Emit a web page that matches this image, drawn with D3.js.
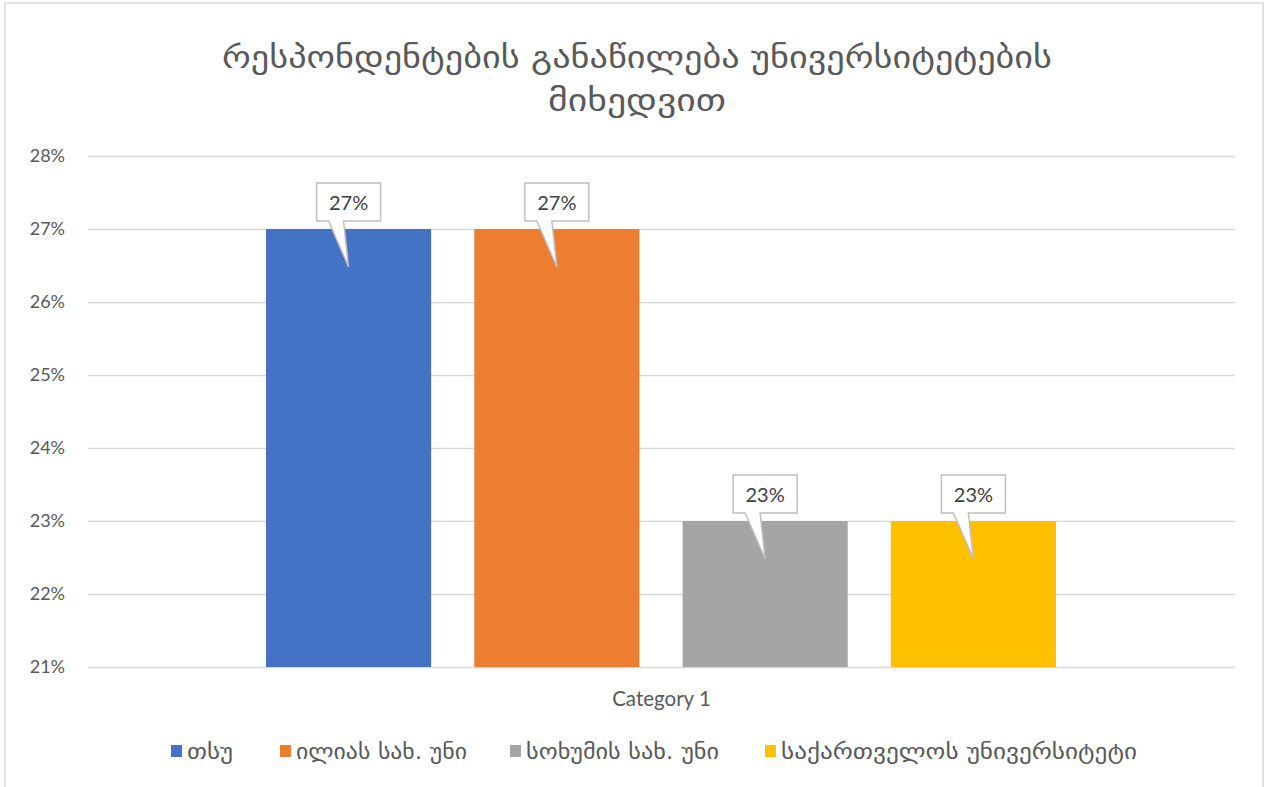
<!DOCTYPE html>
<html><head><meta charset="utf-8">
<script src="https://cdn.jsdelivr.net/npm/d3@7"></script>
<style>body{margin:0;background:#fff;}svg{display:block;}</style>
</head><body>
<svg id="c" width="1270" height="787"></svg>
<script>
const titleLines = ["რესპონდენტების განაწილება უნივერსიტეტების", "მიხედვით"];
const categories = ["Category 1"];
const seriesNames = ["თსუ", "ილიას სახ. უნი", "სოხუმის სახ. უნი", "საქართველოს უნივერსიტეტი"];
const seriesValues = [0.27, 0.27, 0.23, 0.23];
const seriesColors = ["#4472C4", "#ED7D31", "#A5A5A5", "#FFC000"];
const yTicks = [0.21, 0.22, 0.23, 0.24, 0.25, 0.26, 0.27, 0.28];

const svg = d3.select("#c");
const geo = "'DejaVu Sans', sans-serif";
const geoLight = "'DejaVu Sans ExtraLight', 'DejaVu Sans', sans-serif";
const lat = "Lato, 'Open Sans', sans-serif";

// outer border
svg.append("rect").attr("x", 5).attr("y", 3).attr("width", 1258).attr("height", 800)
  .attr("fill", "#fff").attr("stroke", "#d9d9d9").attr("stroke-width", 1.5);

// title
const titleLen = [830, 178];
svg.append("g").selectAll("text").data(titleLines).join("text")
  .attr("x", 637).attr("y", (d, i) => 68 + i * 43)
  .attr("text-anchor", "middle").attr("font-family", geoLight).attr("font-size", 31)
  .attr("textLength", (d, i) => titleLen[i]).attr("lengthAdjust", "spacingAndGlyphs")
  .attr("fill", "#595959").text(d => d);

const plotL = 88, plotR = 1235;
const y = d3.scaleLinear().domain([0.21, 0.28]).range([667, 156]);
const x0 = d3.scaleBand().domain(categories).range([plotL, plotR]).paddingInner(0).paddingOuter(0);
const x1 = d3.scaleBand().domain(seriesNames)
  .range([x0("Category 1") + 178, x0("Category 1") + x0.bandwidth() - 179]).paddingInner(0.207).paddingOuter(0);

// gridlines via axis
const yAxis = d3.axisLeft(y).tickValues(yTicks).tickFormat(d3.format(".0%")).tickSize(-(plotR - plotL)).tickPadding(23);
const ga = svg.append("g").attr("transform", `translate(${plotL},0)`).call(yAxis);
ga.select(".domain").remove();
ga.selectAll(".tick line").attr("stroke", "#d9d9d9").attr("stroke-width", 1.3);
ga.selectAll(".tick text").attr("font-family", lat).attr("font-size", 18).attr("fill", "#595959");

// bars
const data = seriesNames.map((s, i) => ({ s, v: seriesValues[i], c: seriesColors[i] }));
svg.append("g").selectAll("rect").data(data).join("rect")
  .attr("x", d => x1(d.s)).attr("y", d => y(d.v))
  .attr("width", x1.bandwidth()).attr("height", d => y(0.21) - y(d.v))
  .attr("fill", d => d.c);

// callouts
const cg = svg.append("g");
data.forEach(d => {
  const cx = x1(d.s) + x1.bandwidth() / 2;
  const yv = y(d.v);
  const bw = 64, top = yv - 46, bot = yv - 8, l = cx - bw / 2, r = cx + bw / 2;
  const p = d3.path();
  p.moveTo(l, top); p.lineTo(r, top); p.lineTo(r, bot);
  p.lineTo(cx - 5, bot); p.lineTo(cx, yv + 38); p.lineTo(cx - 20, bot);
  p.lineTo(l, bot); p.closePath();
  cg.append("path").attr("d", p.toString()).attr("fill", "#fff")
    .attr("stroke", "#bfbfbf").attr("stroke-width", 1.5);
  cg.append("text").attr("x", cx).attr("y", top + 27).attr("text-anchor", "middle")
    .attr("font-family", lat).attr("font-size", 20).attr("fill", "#404040")
    .text(d3.format(".0%")(d.v));
});

// category label
svg.append("text").attr("x", x0("Category 1") + x0.bandwidth() / 2).attr("y", 706)
  .attr("text-anchor", "middle").attr("font-family", lat).attr("font-size", 20.5)
  .attr("fill", "#595959").text(categories[0]);

// legend
const legX = [171, 280, 510, 765];
const legLen = [46, 171, 193, 356];
const lg = svg.append("g");
data.forEach((d, i) => {
  lg.append("rect").attr("x", legX[i]).attr("y", 745).attr("width", 11).attr("height", 12).attr("fill", d.c);
  lg.append("text").attr("x", legX[i] + 16).attr("y", 759).attr("font-family", geoLight)
    .attr("font-size", 21).attr("textLength", legLen[i]).attr("lengthAdjust", "spacingAndGlyphs")
    .attr("fill", "#595959").text(d.s);
});
</script>
</body></html>
